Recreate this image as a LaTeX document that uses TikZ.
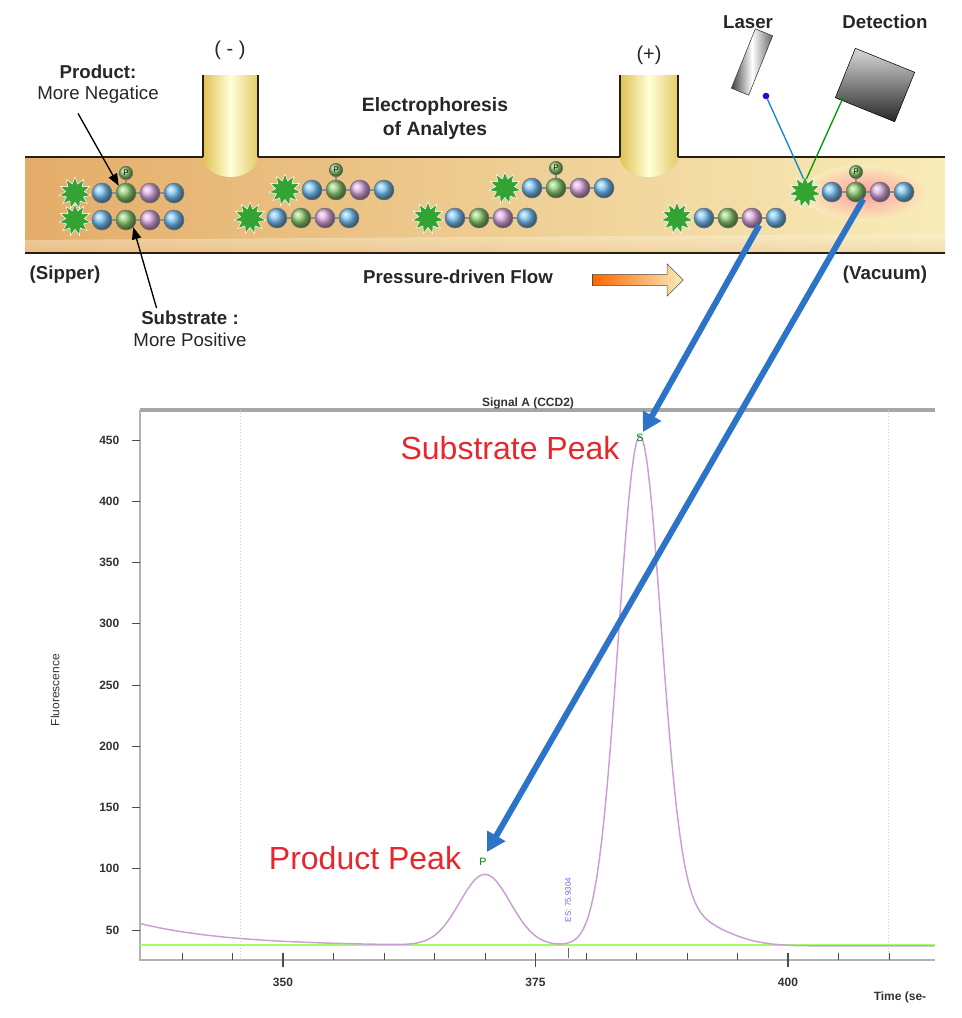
\documentclass[tikz,border=0pt]{standalone}
\usepackage{fontspec}
\setmainfont{Liberation Sans}
\usetikzlibrary{shapes.geometric,shapes.arrows,arrows.meta,positioning,calc}

\definecolor{chipline}{RGB}{40,30,20}
\definecolor{chipleft}{RGB}{228,172,105}
\definecolor{chipright}{RGB}{248,236,185}
\definecolor{flowblue}{RGB}{45,115,200}
\definecolor{peakred}{RGB}{230,40,45}
\definecolor{tracepink}{RGB}{200,160,210}
\definecolor{beadblue}{RGB}{120,195,245}
\definecolor{beadgreen}{RGB}{140,205,110}
\definecolor{beadpurple}{RGB}{220,170,225}

\tikzset{
  bead/.style={circle, draw=black!55, thin, minimum size=15pt, inner sep=0pt, shading=ball, ball color=#1},
  pbead/.style={circle, draw=black!60, thin, minimum size=10pt, inner sep=0pt, shading=ball, ball color=beadgreen, font=\fontsize{6}{6}\selectfont},
  dye/.style={star, star points=11, star point ratio=1.7, fill=green!55!black!80, draw=white, thin, minimum size=24pt, inner sep=0pt},
  link/.style={draw=black!45, line width=2.2pt},
  label/.style={font=\fontsize{14}{16}\selectfont, align=center, text=black!85},
  peak/.style={font=\fontsize{24}{26}\selectfont, text=peakred},
  tick/.style={font=\fontsize{9}{10}\bfseries\selectfont, text=black!80},
  thick arrow/.style={draw=flowblue, line width=4.5pt, -{Triangle[length=14pt,width=15pt]}},
  thin arrow/.style={draw=black, line width=1pt, -{Triangle[length=9pt,width=7pt]}},
}

% chain of beads: name, x, y, phospho (1/0)
\newcommand\chain[4]{%
  \node[dye] (#1s) at (#2,#3) {};
  \foreach \c/\d [count=\i] in {beadblue/27, beadgreen/51, beadpurple/75, beadblue/99}
    \node[bead=\c] (#1b\i) at (#2+\d,#3) {};
  \draw[link] (#1b1) -- (#1b2) (#1b2) -- (#1b3) (#1b3) -- (#1b4);
  \ifnum#4=1
    \node[pbead] (#1p) at (#2+51,#3-20) {P};
    \draw[link, line width=1.5pt] (#1b2) -- (#1p);
  \fi
}

\begin{document}
\begin{tikzpicture}[x=0.75pt, y=-0.75pt]
  \useasboundingbox (0,0) rectangle (962,1018);

  % channel
  \shade[left color=chipleft, right color=chipright] (25,157) rectangle (945,253);
  \shade[top color=chipright!60, bottom color=chipleft!60, opacity=.5] (25,240) -- (945,234) -- (945,253) -- (25,253) -- cycle;
  \draw[chipline, line width=1.6pt] (25,157) -- (203,157) (258,157) -- (620,157) (678,157) -- (945,157);
  \draw[chipline, line width=1.6pt] (25,253) -- (945,253);

  % wells
  \foreach \n/\a/\b in {neg/203/258, pos/620/678}{
    \shade[left color=yellow!40!brown!80, right color=yellow!40!brown!70, middle color=yellow!15]
      (\a,75) -- (\a,157) arc[start angle=180, end angle=0, x radius={(\b-\a)/2}, y radius=20] -- (\b,75) -- cycle;
    \draw[chipline, line width=1.6pt] (\a,75) -- (\a,157) (\b,75) -- (\b,157);
  }
  \node[label, font=\fontsize{15}{16}\selectfont] (neglabel) at (230,50) {( - )};
  \node[label, font=\fontsize{15}{16}\selectfont] (poslabel) at (649,55) {(+)};
  \node[label, font=\fontsize{14.5}{18}\bfseries\selectfont] (title) at (435,118) {Electrophoresis\\of Analytes};

  % laser and detector
  \node[label, font=\fontsize{14}{16}\bfseries\selectfont] (laserlabel) at (748,22) {Laser};
  \node[label, font=\fontsize{14}{16}\bfseries\selectfont] (detlabel) at (885,22) {Detection};
  \node[draw=black!80, rotate=-22, minimum width=14pt, minimum height=48pt, inner sep=0pt,
        left color=black!75, right color=black!60, middle color=white] (laser) at (752,62) {};
  \node[circle, fill=blue!60!violet, minimum size=5pt, inner sep=0pt] (lens) at (766,96) {};
  \node[draw=black, rotate=-22, minimum width=48pt, minimum height=40pt, inner sep=0pt,
        top color=gray!30, bottom color=black!85] (detector) at (875,85) {};
  \coordinate (spot) at (805,182);
  \draw[cyan!70!blue, line width=1pt] (lens) -- (spot);
  \draw[green!60!black, line width=1pt] (detector.south west) ++(8,0) coordinate (detin) (detin) -- (spot);

  % glow at detection point
  \shade[inner color=red!40!pink!70, outer color=chipright] (865,193) ellipse [x radius=62, y radius=28];

  % analytes
  \chain{pa}{75}{193}{1}
  \chain{sa}{75}{220}{0}
  \chain{pb}{285}{190}{1}
  \chain{sb}{250}{218}{0}
  \chain{pc}{505}{188}{1}
  \chain{sc}{428}{218}{0}
  \chain{sd}{677}{218}{0}
  \chain{pd}{805}{192}{1}

  % annotations
  \node[label, font=\fontsize{14}{16}\bfseries\selectfont] (prod) at (98,72) {Product:};
  \node[label] (prodsub) at (98,95) {More Negatice};
  \draw[thin arrow] ($(prodsub.south)+(-20,5)$) coordinate (pstart) -- (pab2.north west);
  \node[label, font=\fontsize{14}{16}\bfseries\selectfont] (subs) at (190,318) {Substrate :};
  \node[label] (subssub) at (190,340) {More Positive};
  \draw[thin arrow] ($(subs.west)+(20,-10)$) coordinate (sstart) -- (sab2.south east);
  \node[label, font=\fontsize{14}{16}\bfseries\selectfont] (sipper) at (65,275) {(Sipper)};
  \node[label, font=\fontsize{14}{16}\bfseries\selectfont] (vacuum) at (885,275) {(Vacuum)};
  \node[label, font=\fontsize{14}{16}\bfseries\selectfont] (flow) at (458,277) {Pressure-driven Flow};
  \node[single arrow, draw=black!70, left color=orange!80!red, right color=chipright, minimum height=68pt,
        minimum width=24pt, single arrow head extend=4pt, inner sep=2pt] (flowarrow) at (635,280) {};

  % chromatogram frame
  \draw[gray!70, line width=2.5pt] (140,410) -- (935,410);
  \draw[gray!60, line width=1pt] (140,410) -- (140,960) -- (935,960);
  \draw[gray!40, dotted] (240,410) -- (240,960) (888,410) -- (888,960);
  \node[tick] (signal) at (528,403) {Signal A (CCD2)};
  \foreach \v in {50,100,...,450}{
    \draw[black!70] (132,{930-(\v-50)*1.225}) -- (140,{930-(\v-50)*1.225});
    \node[tick, anchor=east] (y\v) at (124,{930-(\v-50)*1.225}) {\v};
  }
  \foreach \t in {340,345,...,410}
    \draw[black!70] ({283+(\t-350)*10.1},960) -- ({283+(\t-350)*10.1},953);
  \foreach \t in {350,375,400}{
    \draw[black!70, line width=1pt] ({283+(\t-350)*10.1},967) -- ({283+(\t-350)*10.1},953);
    \node[tick] (x\t) at ({283+(\t-350)*10.1},982) {\t};
  }
  \node[tick] (timelabel) at (900,997) {Time (se-};
  \node[tick, rotate=90, font=\fontsize{9}{9}\selectfont] (ylabel) at (55,690) {Fluorescence};

  % baseline and trace
  \draw[green!50!lime!60, line width=1pt] (140,945) -- (935,945);
  \draw[tracepink, line width=1.1pt] plot[domain=335.8:414.5, samples=300, variable=\t]
    ({283+(\t-350)*10.1},
     {930-(37+18*exp(-(\t-336)/9)
        +58*exp(-min(((\t-370)/2.5)^2/2,30))
        +400*exp(-min(((\t-385.3)/2.1)^2/2,30))
        +25*exp(-min(((\t-389)/4)^2/2,30))-50)*1.225});

  % peak marks
  \node[text=green!50!black, font=\fontsize{8}{8}\selectfont] (smark) at (640,438) {S};
  \node[text=green!50!black, font=\fontsize{8}{8}\selectfont] (pmark) at (483,862) {P};
  \node[text=blue!60, rotate=90, font=\fontsize{6}{6}\selectfont] (esmark) at (568,900) {ES: 75.9304};
  \draw[black!60] (568,948) -- (568,958);
  \node[peak] (subpeak) at (510,448) {Substrate Peak};
  \node[peak] (prodpeak) at (365,858) {Product Peak};

  % flow to detector arrows
  \coordinate (shead) at (643,432);
  \coordinate (phead) at (487,852);
  \draw[thick arrow] (sdb3.south east) -- (shead);
  \draw[thick arrow] (pdb2.south east) -- (phead);
\end{tikzpicture}
\end{document}
